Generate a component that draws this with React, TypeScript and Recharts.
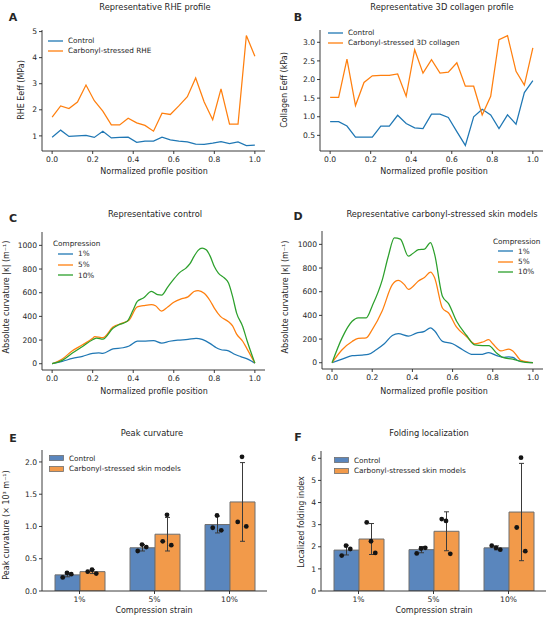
import React from 'react';
import { LineChart, Line, XAxis, YAxis, ComposedChart, Bar, ErrorBar, Scatter } from 'recharts';

const FONT = '"DejaVu Sans", sans-serif';
const INK = '#262626';
const BLUE = '#1f77b4';
const ORANGE = '#ff7f0e';
const GREEN = '#2ca02c';
const BAR_BLUE = '#5a86bd';
const BAR_ORANGE = '#f29a4a';

// A / B: 25-point profiles
const profileX = [0, 0.042, 0.083, 0.125, 0.167, 0.208, 0.25, 0.292, 0.333, 0.375, 0.417, 0.458, 0.5,
  0.542, 0.583, 0.625, 0.667, 0.708, 0.75, 0.792, 0.833, 0.875, 0.917, 0.958, 1];
const rheControl = [0.95, 1.22, 0.98, 1.0, 1.02, 0.94, 1.18, 0.92, 0.94, 0.95, 0.75, 0.8, 0.8,
  0.95, 0.85, 0.8, 0.77, 0.68, 0.67, 0.72, 0.78, 0.7, 0.77, 0.63, 0.65];
const rheCarbonyl = [1.72, 2.15, 2.05, 2.3, 2.95, 2.35, 1.95, 1.42, 1.42, 1.68, 1.5, 1.4, 1.18,
  1.87, 1.82, 2.15, 2.5, 3.22, 2.3, 1.62, 2.8, 1.45, 1.45, 4.85, 4.05];
const colControl = [0.87, 0.87, 0.75, 0.45, 0.45, 0.45, 0.75, 0.75, 1.04, 0.82, 0.7, 0.68, 1.07,
  1.07, 0.98, 0.6, 0.23, 1.0, 1.2, 1.05, 0.68, 1.05, 0.8, 1.65, 1.97];
const colCarbonyl = [1.52, 1.52, 2.55, 1.3, 1.92, 2.1, 2.11, 2.11, 2.15, 1.55, 2.8, 2.17, 2.53,
  2.17, 2.2, 2.45, 1.82, 1.82, 1.05, 1.55, 3.07, 3.18, 2.22, 1.85, 2.85];

// C: representative control curvature
const c1x = [0, 0.05, 0.1, 0.15, 0.2, 0.23, 0.25, 0.3, 0.35, 0.38, 0.42, 0.46, 0.5, 0.54, 0.58, 0.62, 0.67, 0.71, 0.74, 0.78, 0.81, 0.83, 0.87, 0.9, 0.93, 0.97, 1];
const c1y = [0, 20, 45, 62, 88, 92, 88, 125, 135, 150, 190, 192, 195, 175, 190, 200, 205, 215, 205, 170, 135, 120, 108, 80, 60, 35, 5];
const c5x = [0, 0.05, 0.1, 0.15, 0.2, 0.21, 0.25, 0.3, 0.35, 0.38, 0.42, 0.45, 0.49, 0.51, 0.54, 0.57, 0.6, 0.64, 0.67, 0.7, 0.72, 0.75, 0.78, 0.8, 0.83, 0.87, 0.89, 0.91, 0.94, 0.96, 1];
const c5y = [0, 40, 110, 160, 215, 230, 220, 310, 345, 370, 480, 490, 500, 490, 445, 480, 520, 550, 565, 610, 618, 595, 530, 470, 400, 355, 320, 250, 190, 130, 5];
const c10x = [0, 0.05, 0.1, 0.15, 0.2, 0.22, 0.25, 0.3, 0.33, 0.37, 0.4, 0.42, 0.45, 0.49, 0.52, 0.54, 0.57, 0.6, 0.63, 0.66, 0.68, 0.7, 0.72, 0.74, 0.76, 0.78, 0.8, 0.82, 0.85, 0.87, 0.89, 0.91, 0.94, 0.96, 1];
const c10y = [0, 28, 90, 146, 203, 217, 208, 300, 330, 358, 456, 527, 555, 611, 583, 580, 648, 715, 772, 808, 845, 907, 958, 977, 963, 907, 822, 766, 724, 682, 569, 428, 315, 203, 5];

// D: representative carbonyl-stressed curvature
const d1x = [0, 0.05, 0.1, 0.15, 0.18, 0.22, 0.26, 0.3, 0.33, 0.38, 0.42, 0.46, 0.49, 0.51, 0.55, 0.6, 0.65, 0.7, 0.74, 0.78, 0.82, 0.85, 0.88, 0.9, 0.93, 1];
const d1y = [0, 30, 60, 65, 70, 110, 160, 230, 245, 225, 250, 265, 295, 270, 180, 160, 110, 70, 70, 85, 60, 45, 50, 45, 15, 0];
const d5x = [0, 0.05, 0.1, 0.13, 0.17, 0.2, 0.25, 0.3, 0.33, 0.36, 0.38, 0.4, 0.43, 0.46, 0.49, 0.51, 0.55, 0.58, 0.62, 0.67, 0.71, 0.75, 0.78, 0.8, 0.84, 0.88, 0.9, 0.94, 1];
const d5y = [0, 110, 180, 205, 210, 280, 440, 660, 695, 660, 620, 640, 690, 720, 765, 720, 460, 420, 300, 220, 160, 175, 195, 160, 100, 115, 100, 20, 0];
const d10x = [0, 0.05, 0.1, 0.13, 0.17, 0.2, 0.25, 0.28, 0.31, 0.34, 0.38, 0.4, 0.43, 0.46, 0.49, 0.51, 0.55, 0.58, 0.62, 0.67, 0.71, 0.75, 0.78, 0.82, 0.85, 0.9, 0.94, 1];
const d10y = [0, 210, 350, 380, 380, 480, 700, 900, 1055, 1045, 900, 920, 955, 960, 1015, 920, 560, 500, 350, 230, 150, 145, 145, 80, 45, 30, 10, 0];

// E / F: grouped bars
const strains = ['1%', '5%', '10%'];
const peakControl = [0.25, 0.67, 1.03];
const peakControlSd = [0.03, 0.05, 0.13];
const peakCarbonyl = [0.3, 0.88, 1.38];
const peakCarbonylSd = [0.03, 0.26, 0.61];
const peakControlPts = [[0.21, 0.28, 0.26], [0.62, 0.72, 0.68], [0.98, 1.17, 0.94]];
const peakCarbonylPts = [[0.3, 0.33, 0.27], [0.77, 1.18, 0.71], [1.07, 2.08, 1.0]];

const foldControl = [1.85, 1.87, 1.95];
const foldControlSd = [0.22, 0.14, 0.09];
const foldCarbonyl = [2.35, 2.7, 3.57];
const foldCarbonylSd = [0.7, 0.88, 2.2];
const foldControlPts = [[1.6, 2.05, 1.9], [1.7, 1.92, 1.95], [2.05, 1.95, 1.87]];
const foldCarbonylPts = [[3.1, 2.25, 1.72], [3.25, 3.17, 1.68], [2.87, 6.03, 1.8]];

const JITTER = [-0.057, 0, 0.057];
const BAR_OFFSET = 1 / 6;

type Rect = { l: number; t: number; r: number; b: number };
const YW = 30;
const XH = 22;
const MT = 6;
const MR = 6;

const toPts = (xs: number[], ys: number[]) => xs.map((x, i) => ({ x, y: ys[i] }));

const tickStyle = { fontSize: 7.6, fill: INK, fontFamily: FONT };
const axisLine = { stroke: INK, strokeWidth: 0.9 };

function Txt({ x, y, children, size = 8, weight = 400, rot = false }: any) {
  return (
    <div
      style={{
        position: 'absolute', left: x, top: y, whiteSpace: 'nowrap', lineHeight: 1,
        transform: `translate(-50%, -50%)${rot ? ' rotate(-90deg)' : ''}`,
        fontSize: size, fontWeight: weight, fontFamily: FONT, color: INK,
      }}
    >
      {children}
    </div>
  );
}

function Key({ left, top, rowH, items, title, patch = false }: any) {
  return (
    <div style={{ position: 'absolute', left, top, fontFamily: FONT, fontSize: 7.3, color: INK, lineHeight: 1 }}>
      {title && <div style={{ height: rowH, display: 'flex', alignItems: 'center', marginLeft: -5 }}>{title}</div>}
      {items.map((it: any) => (
        <div key={it.label} style={{ height: rowH, display: 'flex', alignItems: 'center' }}>
          <svg width={15} height={6} style={{ marginRight: 5 }}>
            {patch
              ? <rect x={0.5} y={0.5} width={14} height={5} fill={it.color} stroke="#6e6e6e" strokeWidth={0.8} />
              : <line x1={0} y1={3} x2={15} y2={3} stroke={it.color} strokeWidth={1.3} />}
          </svg>
          <span>{it.label}</span>
        </div>
      ))}
    </div>
  );
}

function Frame({ p, children }: { p: Rect; children: React.ReactNode }) {
  return <div style={{ position: 'absolute', left: p.l - YW, top: p.t - MT }}>{children}</div>;
}

const size = (p: Rect) => ({
  width: p.r - p.l + YW + MR,
  height: p.b - p.t + MT + XH,
  margin: { top: MT, right: MR, left: 0, bottom: 0 },
});

const profileTicks = [0, 0.2, 0.4, 0.6, 0.8, 1];

function ProfileChart({ p, yDomain, yTicks, yFmt, series, curve = 'linear' }: any) {
  return (
    <Frame p={p}>
      <LineChart {...size(p)}>
        <XAxis type="number" dataKey="x" domain={[-0.05, 1.05]} ticks={profileTicks} interval={0}
          tickFormatter={(v: number) => v.toFixed(1)} tick={tickStyle} tickLine={axisLine} axisLine={axisLine}
          tickSize={3} tickMargin={3} height={XH} allowDataOverflow />
        <YAxis type="number" domain={yDomain} ticks={yTicks} interval={0} tickFormatter={yFmt}
          tick={tickStyle} tickLine={axisLine} axisLine={axisLine} tickSize={3} tickMargin={2} width={YW} allowDataOverflow />
        {series.map((s: any) => (
          <Line key={s.name} data={s.data} dataKey="y" name={s.name} stroke={s.color} strokeWidth={1.25}
            dot={false} type={curve} isAnimationActive={false} />
        ))}
      </LineChart>
    </Frame>
  );
}

const dotShape = (props: any) => <circle cx={props.cx} cy={props.cy} r={2.4} fill="#141414" />;

function GroupBars({ p, yDomain, yTicks, yFmt, ctrl, ctrlSd, carb, carbSd, ctrlPts, carbPts }: any) {
  const rows = strains.map((cat, i) => ({ cat, ctrl: ctrl[i], ctrlSd: ctrlSd[i], carb: carb[i], carbSd: carbSd[i] }));
  const dots: { px: number; v: number }[] = [];
  strains.forEach((_, i) => {
    ctrlPts[i].forEach((v: number, j: number) => dots.push({ px: i - BAR_OFFSET + JITTER[j], v }));
    carbPts[i].forEach((v: number, j: number) => dots.push({ px: i + BAR_OFFSET + JITTER[j], v }));
  });
  return (
    <Frame p={p}>
      <ComposedChart {...size(p)} data={rows} barGap={0} barSize={25}>
        <XAxis dataKey="cat" type="category" tick={tickStyle} tickLine={axisLine} axisLine={axisLine}
          tickSize={3} tickMargin={3} height={XH} interval={0} />
        <XAxis xAxisId="n" type="number" dataKey="px" domain={[-0.5, 2.5]} hide allowDataOverflow />
        <YAxis type="number" domain={yDomain} ticks={yTicks} interval={0} tickFormatter={yFmt}
          tick={tickStyle} tickLine={axisLine} axisLine={axisLine} tickSize={3} tickMargin={2} width={YW} allowDataOverflow />
        <Bar dataKey="ctrl" fill={BAR_BLUE} stroke="#6e6e6e" strokeWidth={1} isAnimationActive={false}>
          <ErrorBar dataKey="ctrlSd" width={2.5} stroke="#3a3a3a" strokeWidth={1} />
        </Bar>
        <Bar dataKey="carb" fill={BAR_ORANGE} stroke="#6e6e6e" strokeWidth={1} isAnimationActive={false}>
          <ErrorBar dataKey="carbSd" width={2.5} stroke="#3a3a3a" strokeWidth={1} />
        </Bar>
        <Scatter xAxisId="n" data={dots} dataKey="v" shape={dotShape} isAnimationActive={false} />
      </ComposedChart>
    </Frame>
  );
}

const pA: Rect = { l: 42, t: 30, r: 265, b: 151 };
const pB: Rect = { l: 320, t: 30, r: 543, b: 151 };
const pC: Rect = { l: 42, t: 232, r: 265, b: 370 };
const pD: Rect = { l: 322, t: 231, r: 543, b: 369 };
const pE: Rect = { l: 42, t: 450, r: 267, b: 591 };
const pF: Rect = { l: 321, t: 451, r: 546, b: 591 };

const curvDomain = [-53, 1113];
const curvTicks = [0, 200, 400, 600, 800, 1000];
const compression = [
  { label: '1%', color: BLUE },
  { label: '5%', color: ORANGE },
  { label: '10%', color: GREEN },
];
const barKeys = [
  { label: 'Control', color: BAR_BLUE },
  { label: 'Carbonyl-stressed skin models', color: BAR_ORANGE },
];

const TITLE = 8.3;
const LETTER = 11;

export default function App() {
  return (
    <div style={{ position: 'absolute', left: 0, top: 0, width: 550, height: 619, background: '#fff', overflow: 'hidden' }}>
      {/* A */}
      <ProfileChart p={pA} yDomain={[0.42, 5.06]} yTicks={[1, 2, 3, 4, 5]} yFmt={(v: number) => String(v)}
        series={[
          { name: 'Control', color: BLUE, data: toPts(profileX, rheControl) },
          { name: 'Carbonyl-stressed RHE', color: ORANGE, data: toPts(profileX, rheCarbonyl) },
        ]} />
      <Txt x={13} y={17} size={LETTER} weight={700}>A</Txt>
      <Txt x={155} y={7} size={TITLE}>Representative RHE profile</Txt>
      <Txt x={154} y={172}>Normalized profile position</Txt>
      <Txt x={22} y={90} rot>RHE Eeff (MPa)</Txt>
      <Key left={48} top={36} rowH={10}
        items={[{ label: 'Control', color: BLUE }, { label: 'Carbonyl-stressed RHE', color: ORANGE }]} />

      {/* B */}
      <ProfileChart p={pB} yDomain={[0.08, 3.33]} yTicks={[0.5, 1, 1.5, 2, 2.5, 3]} yFmt={(v: number) => v.toFixed(1)}
        series={[
          { name: 'Control', color: BLUE, data: toPts(profileX, colControl) },
          { name: 'Carbonyl-stressed 3D collagen', color: ORANGE, data: toPts(profileX, colCarbonyl) },
        ]} />
      <Txt x={298} y={17} size={LETTER} weight={700}>B</Txt>
      <Txt x={442} y={7} size={TITLE}>Representative 3D collagen profile</Txt>
      <Txt x={434} y={172}>Normalized profile position</Txt>
      <Txt x={285} y={90} rot>Collagen Eeff (kPa)</Txt>
      <Key left={328} top={28} rowH={10}
        items={[{ label: 'Control', color: BLUE }, { label: 'Carbonyl-stressed 3D collagen', color: ORANGE }]} />

      {/* C */}
      <ProfileChart p={pC} yDomain={curvDomain} yTicks={curvTicks} yFmt={(v: number) => String(v)} curve="monotone"
        series={[
          { name: '1%', color: BLUE, data: toPts(c1x, c1y) },
          { name: '5%', color: ORANGE, data: toPts(c5x, c5y) },
          { name: '10%', color: GREEN, data: toPts(c10x, c10y) },
        ]} />
      <Txt x={13} y={218} size={LETTER} weight={700}>C</Txt>
      <Txt x={155} y={214} size={TITLE}>Representative control</Txt>
      <Txt x={154} y={392}>Normalized profile position</Txt>
      <Txt x={7} y={297} rot>Absolute curvature |κ| (m⁻¹)</Txt>
      <Key left={58} top={238} rowH={10.7} title="Compression" items={compression} />

      {/* D */}
      <ProfileChart p={pD} yDomain={curvDomain} yTicks={curvTicks} yFmt={(v: number) => String(v)} curve="monotone"
        series={[
          { name: '1%', color: BLUE, data: toPts(d1x, d1y) },
          { name: '5%', color: ORANGE, data: toPts(d5x, d5y) },
          { name: '10%', color: GREEN, data: toPts(d10x, d10y) },
        ]} />
      <Txt x={298} y={216} size={LETTER} weight={700}>D</Txt>
      <Txt x={442} y={214} size={TITLE}>Representative carbonyl-stressed skin models</Txt>
      <Txt x={434} y={392}>Normalized profile position</Txt>
      <Txt x={286} y={297} rot>Absolute curvature |κ| (m⁻¹)</Txt>
      <Key left={498} top={236} rowH={10.3} title="Compression" items={compression} />

      {/* E */}
      <GroupBars p={pE} yDomain={[0, 2.185]} yTicks={[0, 0.5, 1, 1.5, 2]} yFmt={(v: number) => v.toFixed(1)}
        ctrl={peakControl} ctrlSd={peakControlSd} carb={peakCarbonyl} carbSd={peakCarbonylSd}
        ctrlPts={peakControlPts} carbPts={peakCarbonylPts} />
      <Txt x={13} y={438} size={LETTER} weight={700}>E</Txt>
      <Txt x={152} y={433} size={TITLE}>Peak curvature</Txt>
      <Txt x={154} y={611}>Compression strain</Txt>
      <Txt x={7} y={525} rot>Peak curvature (× 10³ m⁻¹)</Txt>
      <Key left={49} top={453} rowH={10.7} patch items={barKeys} />

      {/* F */}
      <GroupBars p={pF} yDomain={[0, 6.33]} yTicks={[0, 1, 2, 3, 4, 5, 6]} yFmt={(v: number) => String(v)}
        ctrl={foldControl} ctrlSd={foldControlSd} carb={foldCarbonyl} carbSd={foldCarbonylSd}
        ctrlPts={foldControlPts} carbPts={foldCarbonylPts} />
      <Txt x={298} y={437} size={LETTER} weight={700}>F</Txt>
      <Txt x={429} y={433} size={TITLE}>Folding localization</Txt>
      <Txt x={434} y={611}>Compression strain</Txt>
      <Txt x={302} y={522} rot>Localized folding index</Txt>
      <Key left={334} top={455} rowH={10.5} patch items={barKeys} />
    </div>
  );
}
